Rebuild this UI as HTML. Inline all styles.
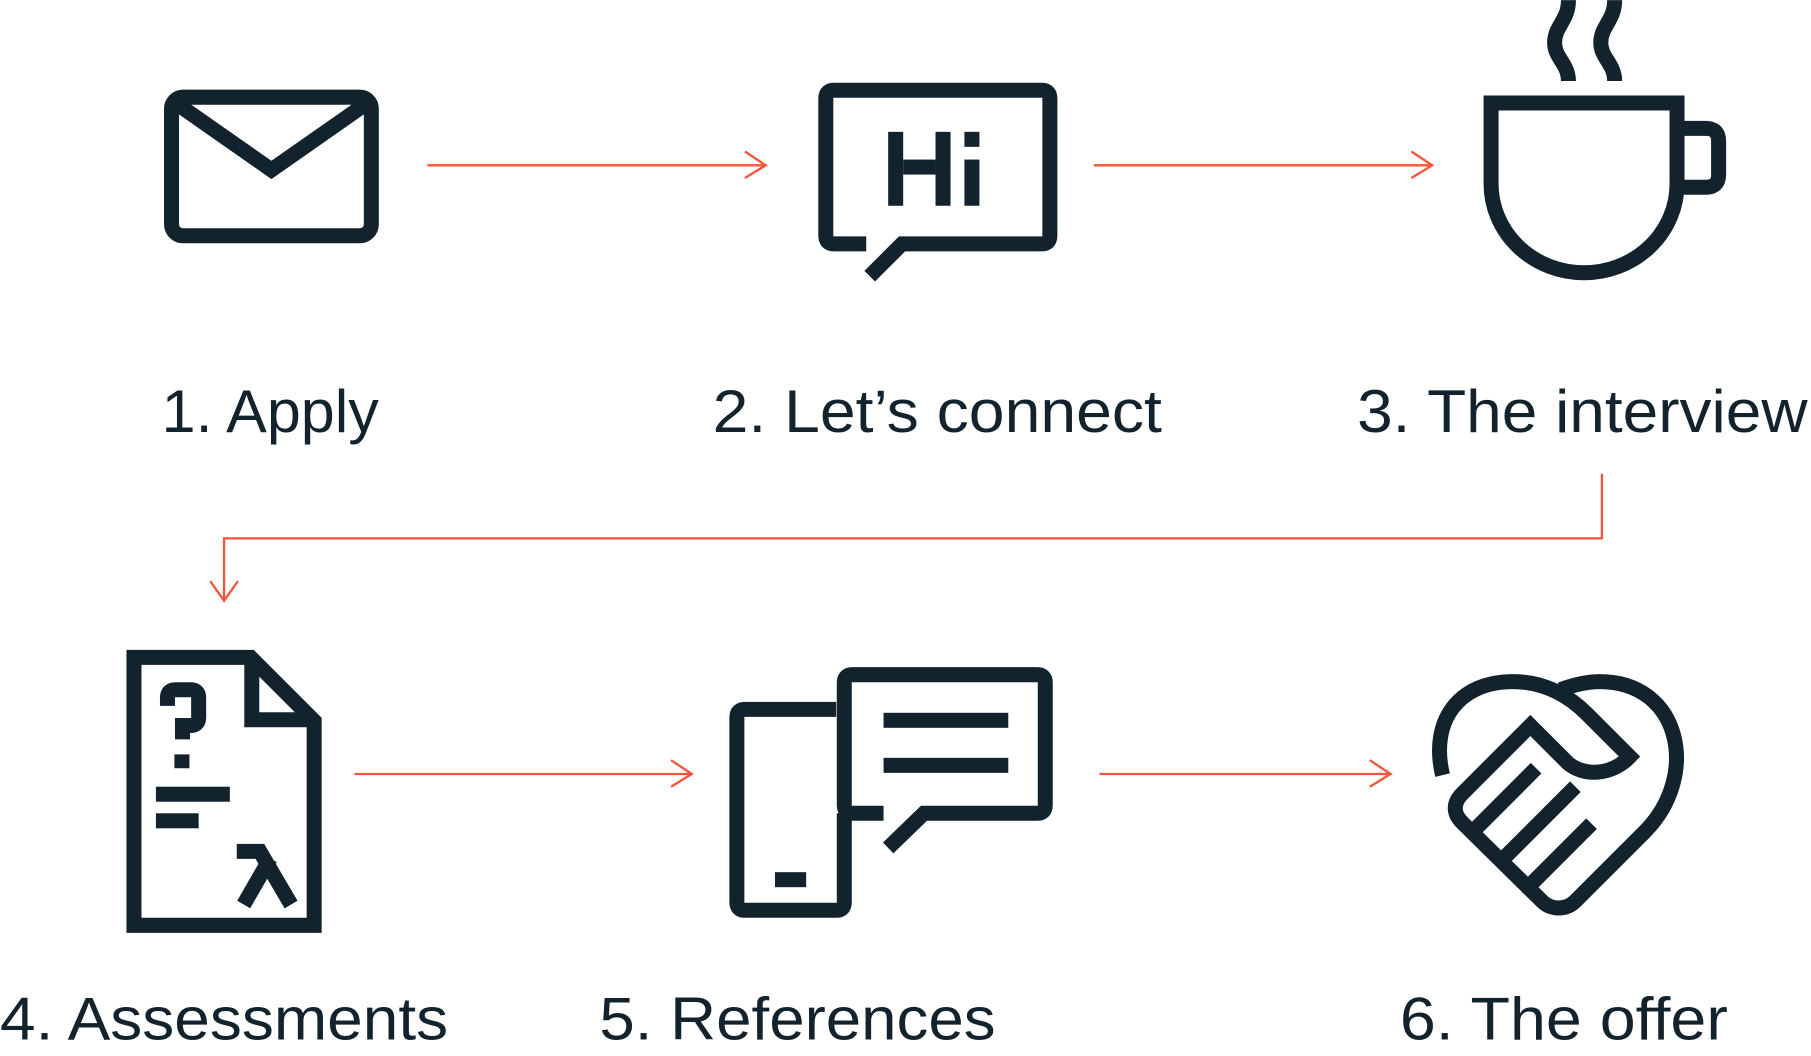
<!DOCTYPE html>
<html><head><meta charset="utf-8"><style>
html,body{margin:0;padding:0;background:#fff;}
svg{display:block;}
text{font-family:"Liberation Sans",sans-serif;fill:#12232e;font-size:52px;}
</style></head><body>
<svg width="1811" height="1056" viewBox="0 0 1568 914" xmlns="http://www.w3.org/2000/svg">
<g fill="none" stroke="#12232e" stroke-width="13">
<rect x="148.5" y="84" width="173" height="120" rx="10"/>
<polyline points="155,91 235,147 315,91" stroke-linejoin="miter"/>
<path d="M750,211 H722 Q715,211 715,204 V85 Q715,78 722,78 H902 Q909,78 909,85 V204 Q909,211 902,211 H781 L753,239"/>
<path d="M1291,89 H1452 V159 A80.5,77 0 0 1 1291,159 Z"/>
<path d="M1452,111 H1477 Q1488,111 1488,122 V151 Q1488,162 1477,162 H1452"/>
<path d="M1358,70 C1358,55 1346,50 1346,37 C1346,22 1358,18 1358,0"/>
<path d="M1398,70 C1398,55 1386,50 1386,37 C1386,22 1398,18 1398,0"/>
<path d="M116,569 H217 L272,624 V801 H116 Z"/>
<path d="M218,569 V623 H272"/>
<path d="M145,611 V604 Q145,597 152,597 H165 Q172,597 172,604 V621 Q172,628 165,628 H158 V640"/>
<path d="M205,737 H225 L252,783 M234,743 L211,783"/>
<path d="M724,614 H645 Q638,614 638,621 V781 Q638,788 645,788 H724 Q731,788 731,781 V704"/>
<path d="M765,704 H738 Q731,704 731,697 V591 Q731,584 738,584 H898 Q905,584 905,591 V697 Q905,704 898,704 H800 L769,734"/>
<path d="M1249,671 C1238,625 1262,590 1310,590 C1337,590 1358,602 1374,618 L1411,655 C1395,672 1370,672 1357,660 L1325,628 L1266,687 C1258,695 1258,704 1266,712 L1335,780 C1343,788 1356,788 1364,780 L1424,720 C1472,672 1456,590 1385,590 C1373,590 1362,593 1351,597"/>
<path d="M1330,665 L1279,716 M1364,681 L1302,743 M1378,713 L1327,764" stroke-linecap="butt"/>
</g>
<g fill="#12232e">
<rect x="769" y="114" width="13" height="64"/><rect x="810" y="114" width="13" height="64"/><rect x="782" y="138" width="28" height="13"/>
<rect x="835" y="114" width="13" height="13"/><rect x="835" y="138" width="13" height="40"/>
<rect x="151" y="653" width="13" height="12"/>
<rect x="135" y="681" width="64" height="13"/><rect x="135" y="704" width="37" height="13"/>
<rect x="765" y="617" width="108" height="13"/><rect x="765" y="656" width="108" height="13"/>
<rect x="671" y="755" width="27" height="13"/>
</g>
<g fill="none" stroke="#f4553a" stroke-width="2">
<path d="M370,143 H663 M645,131 L663,143 L645,154"/>
<path d="M947,143 H1240 M1222,131 L1240,143 L1222,154"/>
<path d="M307,670 H599 M581,658 L599,670 L581,681"/>
<path d="M952,670 H1204 M1186,658 L1204,670 L1186,681"/>
<path d="M1387,410 V466 H194 V520 M182,503 L194,520 L206,503"/>
</g>
<text x="140" y="374" textLength="188" lengthAdjust="spacingAndGlyphs">1. Apply</text>
<text x="617" y="374" textLength="389" lengthAdjust="spacingAndGlyphs">2. Let’s connect</text>
<text x="1175" y="374" textLength="390" lengthAdjust="spacingAndGlyphs">3. The interview</text>
<text x="0" y="900" textLength="388" lengthAdjust="spacingAndGlyphs">4. Assessments</text>
<text x="519" y="900" textLength="343" lengthAdjust="spacingAndGlyphs">5. References</text>
<text x="1212" y="900" textLength="284" lengthAdjust="spacingAndGlyphs">6. The offer</text>
</svg>
</body></html>
